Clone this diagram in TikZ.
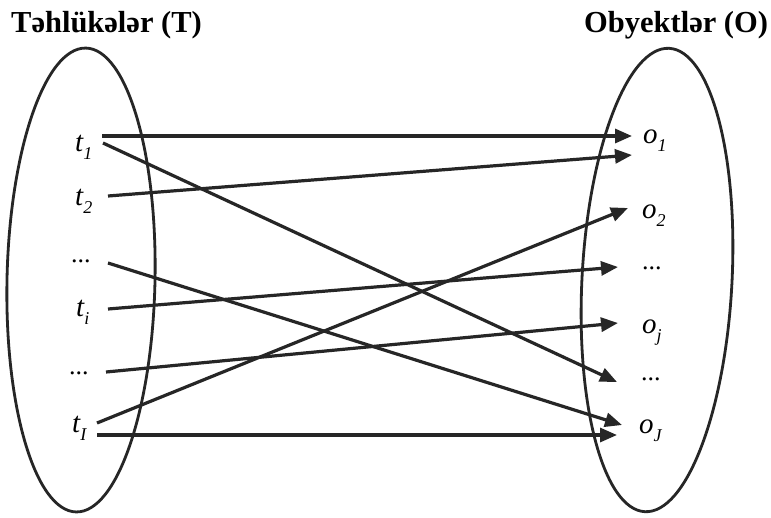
\documentclass[tikz,border=0pt]{standalone}
\usepackage{fontspec}
\setmainfont{Liberation Serif}
\usetikzlibrary{arrows.meta}
\newcommand\subtxt[1]{\raisebox{-0.3em}{\fontsize{18}{18}\selectfont #1}}
\begin{document}
\begin{tikzpicture}[x=1pt,y=-1pt,
  lbl/.style={inner sep=0pt, anchor=base west, font=\fontsize{29}{29}\selectfont\itshape},
  dotlbl/.style={inner sep=0pt, anchor=base west, font=\fontsize{26}{26}\selectfont},
  ttl/.style={inner sep=0pt, anchor=base west, font=\fontsize{30.5}{30.5}\selectfont\bfseries},
  arr/.style={line width=3.2pt, color=black!85, -{Triangle[length=17pt,width=14pt]}},
  setline/.style={line width=2.8pt, color=black!85}]
\useasboundingbox[fill=white] (0,0) rectangle (771,517);

% titles
\node[ttl] (tT) at (11,32) {Təhlükələr (T)};
\node[ttl] (tO) at (584,32) {Obyektlər (O)};

% sets
\draw[setline, rotate around={-1.2:(81,280)}] (81,280) ellipse [x radius=74, y radius=232];
\draw[setline, rotate around={-3:(657,280)}] (657,280) ellipse [x radius=75, y radius=232];

% left labels
\node[lbl] (t1) at (75,151) {t\subtxt{1}};
\node[lbl] (t2) at (75,205) {t\subtxt{2}};
\node[dotlbl] (ld1) at (71,262) {...};
\node[lbl] (ti) at (76,316) {t\subtxt{i}};
\node[dotlbl] (ld2) at (69,374) {...};
\node[lbl] (tI) at (72,432) {t\subtxt{I}};

% right labels
\node[lbl] (o1) at (643,143) {o\subtxt{1}};
\node[lbl] (o2) at (642,218) {o\subtxt{2}};
\node[dotlbl] (rd1) at (642,269) {...};
\node[lbl] (oj) at (642,333) {o\subtxt{j}};
\node[dotlbl] (rd2) at (641,380) {...};
\node[lbl] (oJ) at (639,433) {o\subtxt{J}};

% connector end points
\coordinate (t1a) at (102,136);
\coordinate (t1b) at (103,143);
\coordinate (t2a) at (108,196);
\coordinate (ld1a) at (108,263);
\coordinate (tia) at (108,309);
\coordinate (ld2a) at (106,372);
\coordinate (tIa) at (97,423);
\coordinate (tIb) at (97,435);
\coordinate (o1a) at (632,136);
\coordinate (o1b) at (632,155);
\coordinate (o2a) at (628,208);
\coordinate (rd1a) at (618,267);
\coordinate (oja) at (618,323);
\coordinate (rd2a) at (617,382);
\coordinate (oJa) at (622,425);
\coordinate (oJb) at (617,435);

% connectors
\draw[arr] (t1a) -- (o1a);
\draw[arr] (t1b) -- (rd2a);
\draw[arr] (t2a) -- (o1b);
\draw[arr] (ld1a) -- (oJa);
\draw[arr] (tia) -- (rd1a);
\draw[arr] (ld2a) -- (oja);
\draw[arr] (tIa) -- (o2a);
\draw[arr] (tIb) -- (oJb);
\end{tikzpicture}
\end{document}
